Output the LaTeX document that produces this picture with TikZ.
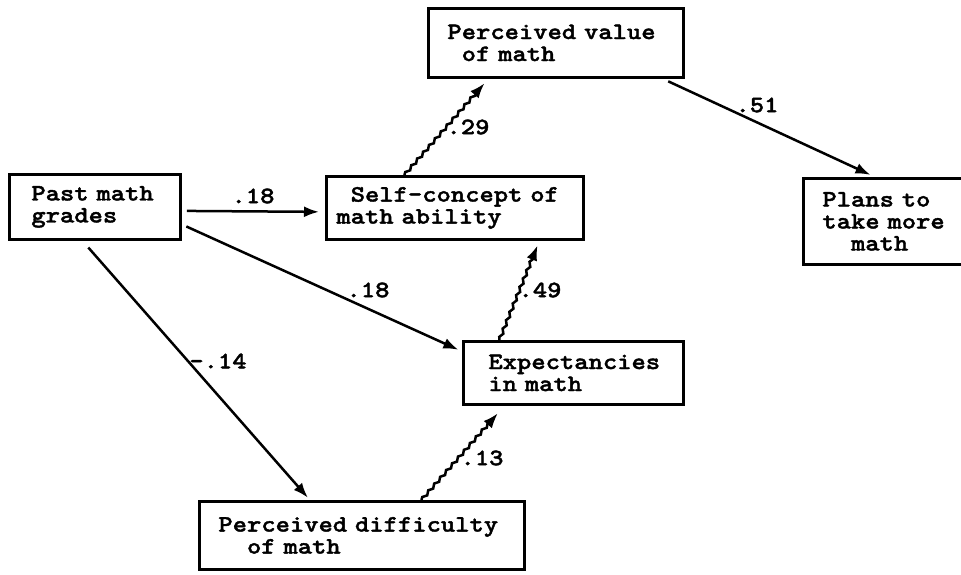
\documentclass[tikz,border=0pt]{standalone}
\usepackage{fontspec}
\newfontfamily\typewriter{lmmonolt10-bold.otf}[FakeStretch=1.16, FakeBold=1.6]
\usetikzlibrary{arrows.meta, decorations.pathmorphing}
\newcommand{\gap}{\hphantom{m}}

\begin{document}
\begin{tikzpicture}[
    x=1pt, y=-1pt,
    box/.style={rectangle, draw, line width=2.8pt, anchor=north west, align=left, inner ysep=0pt, font=\typewriter\fontsize{23.5}{22}\selectfont},
    line/.style={draw, line width=2.5pt, -{Latex[length=15pt, width=11pt]}},
    wavy/.style={line, decorate, decoration={snake, amplitude=1.3pt, segment length=9pt, post length=15pt}},
    weight/.style={font=\typewriter\fontsize{23.5}{22}\selectfont, inner sep=0pt}
]
\useasboundingbox (0,0) rectangle (961,575);

\node [box, inner xsep=22pt, text width=127pt, minimum height=65pt] (past) at (8,173) {Past math\\grades};
\node [box, inner xsep=10pt, text width=237pt, minimum height=63pt] (self) at (325,175) {\gap Self-concept of\\math ability};
\node [box, inner xsep=19pt, text width=217pt, minimum height=69pt] (value) at (427,7) {Perceived value\\\gap of math};
\node [box, inner xsep=19pt, text width=130pt, minimum height=86pt] (plans) at (802,177) {Plans to\\take more\\\gap\gap math};
\node [box, inner xsep=25pt, text width=170pt, minimum height=63pt] (expect) at (462,340) {Expectancies\\in math};
\node [box, inner xsep=19pt, text width=287pt, minimum height=68pt] (diff) at (198,500) {Perceived difficulty\\\gap\gap of math};

\path [line, shorten <=5pt, shorten >=6pt] ([yshift=-4pt]past.east) -- ([yshift=-4pt]self.west);
\path [line, shorten <=5pt, shorten >=4pt] ([yshift=-17.5pt]past.east) -- ([yshift=21.5pt]expect.west);
\path [line, shorten <=9pt, shorten >=3pt] ([xshift=-12.5pt]past.south) -- ([xshift=-52pt]diff.north);
\path [wavy, shorten >=10pt] ([xshift=59.5pt]diff.north) -- ([xshift=-69pt]expect.south);
\path [wavy, shorten >=5pt] ([xshift=-74pt]expect.north) -- ([xshift=84.5pt]self.south);
\path [wavy, shorten >=6pt] ([xshift=-50.5pt]self.north) -- ([xshift=-67.5pt]value.south);
\path [line, shorten <=6pt, shorten >=5pt] ([xshift=-22pt]value.south east) -- ([xshift=73pt]plans.north west);

% path weights
\node [weight] (w-ps) at (253,196) {.18};
\node [weight] (w-pe) at (368,290) {.18};
\node [weight] (w-pd) at (218,361) {-.14};
\node [weight] (w-de) at (482,458) {.13};
\node [weight] (w-es) at (540,290) {.49};
\node [weight] (w-sv) at (468,127) {.29};
\node [weight] (w-vp) at (757,105) {.51};
\end{tikzpicture}
\end{document}
